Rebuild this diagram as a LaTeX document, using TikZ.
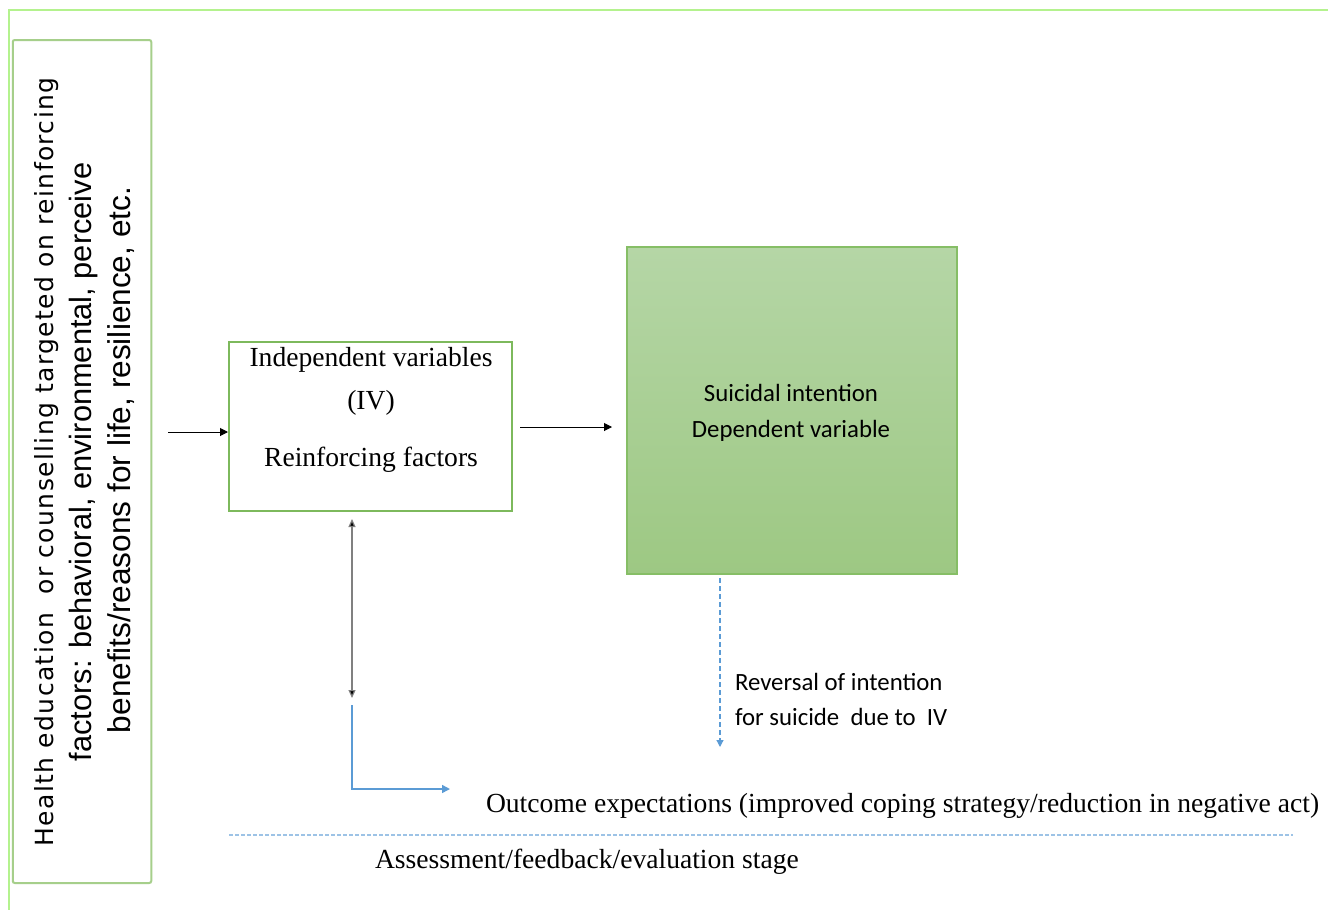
\documentclass[tikz,border=0pt]{standalone}
\usepackage{fontspec}
\setmainfont{Liberation Serif}
\newfontfamily\carl{Carlito}
\newfontfamily\hfont[LetterSpace=5.5]{DejaVu Sans}
\newfontfamily\sfont{Liberation Sans}
\usetikzlibrary{arrows.meta}
\definecolor{framegreen}{HTML}{B4F28E}
\definecolor{leftgreen}{HTML}{A6CF8B}
\definecolor{ivgreen}{HTML}{7DB95C}
\definecolor{dvtop}{HTML}{B5D6A6}
\definecolor{dvbot}{HTML}{9DC883}
\definecolor{dvborder}{HTML}{86BE66}
\definecolor{lineblue}{HTML}{5B9BD5}
\definecolor{paleblue}{HTML}{9DC3E6}
\tikzset{
  lbl/.style={inner sep=0pt, outer sep=0pt},
  serif/.style={font=\fontsize{13.8}{16}\selectfont},
  calib/.style={font=\carl\fontsize{12.4}{14}\selectfont},
  blackarrow/.style={draw=black, line width=0.5pt, -{Triangle[length=4pt,width=4pt]}},
  bluearrow/.style={draw=lineblue, line width=0.75pt, -{Triangle[length=4pt,width=4pt]}},
}
\begin{document}
\begin{tikzpicture}[x=0.5pt,y=-0.5pt]
\useasboundingbox (0,0) rectangle (1328,910);
\fill[white] (0,0) rectangle (1328,910);
% outer frame
\draw[framegreen, line width=1.25pt] (9,910) -- (9,10) -- (1328,10);
% left box
\node[draw=leftgreen, line width=1pt, rounded corners=1pt, minimum width=69.25pt, minimum height=421.5pt, inner sep=0pt] (left) at (82,461.5) {};
\node[lbl, rotate=90, anchor=center, font=\hfont\fontsize{12.5}{14}\selectfont] (lt1) at (47,462) {Health education \ or counselling targeted on reinforcing};
\node[lbl, rotate=90, anchor=center, font=\sfont\fontsize{15.4}{17}\selectfont] (lt2) at (84,462) {factors: behavioral, environmental, perceive};
\node[lbl, rotate=90, anchor=center, font=\sfont\fontsize{15.8}{17}\selectfont] (lt3) at (121,460) {benefits/reasons for life, resilience, etc.};
% IV box
\node[draw=ivgreen, line width=1pt, minimum width=141.5pt, minimum height=84.5pt, inner sep=0pt] (iv) at (370.5,426.5) {};
\node[lbl, serif] (iv1) at (371,360) {Independent variables};
\node[lbl, serif] (iv2) at (371,403) {(IV)};
\node[lbl, serif] (iv3) at (371,460) {Reinforcing factors};
% DV box
\node[draw=dvborder, line width=1pt, top color=dvtop, bottom color=dvbot, minimum width=165pt, minimum height=163.5pt, inner sep=0pt] (dv) at (792,410.5) {};
\node[lbl, calib] (dv1) at (791,393) {Suicidal intention};
\node[lbl, calib] (dv2) at (791,431) {Dependent variable};
% arrows
\coordinate (a0) at (168,432);
\draw[blackarrow] (a0) -- (iv.west |- a0);
\coordinate (b0) at (520,427);
\coordinate (b1) at (612,427);
\draw[blackarrow] (b0) -- (b1);
\coordinate (d0) at (352,519);
\coordinate (d1) at (352,698);
\draw[draw=gray, line width=0.6pt, {Triangle[length=4pt,width=3.5pt,fill=black]}-{Triangle[length=4pt,width=3.5pt,fill=black]}] (d0) -- (d1);
\coordinate (e0) at (352,705);
\coordinate (e1) at (450,789);
\draw[bluearrow] (e0) |- (e1);
\coordinate (f0) at (720,578);
\coordinate (f1) at (720,747);
\draw[draw=lineblue, line width=0.6pt, dash pattern=on 2.5pt off 1.5pt, -{Triangle[length=3.5pt,width=3.5pt]}] (f0) -- (f1);
\node[lbl, anchor=west, calib] (rev1) at (735,682) {Reversal of intention};
\node[lbl, anchor=west, calib] (rev2) at (735,717) {for suicide \ due to \ IV};
\node[lbl, anchor=west, serif] (out) at (486,806) {Outcome expectations (improved coping strategy/reduction in negative act)};
\coordinate (g0) at (229,835);
\coordinate (g1) at (1293,835);
\draw[draw=paleblue, line width=0.6pt, dash pattern=on 2pt off 1pt] (g0) -- (g1);
\node[lbl, anchor=west, serif] (ass) at (375,862) {Assessment/feedback/evaluation stage};
\end{tikzpicture}
\end{document}
